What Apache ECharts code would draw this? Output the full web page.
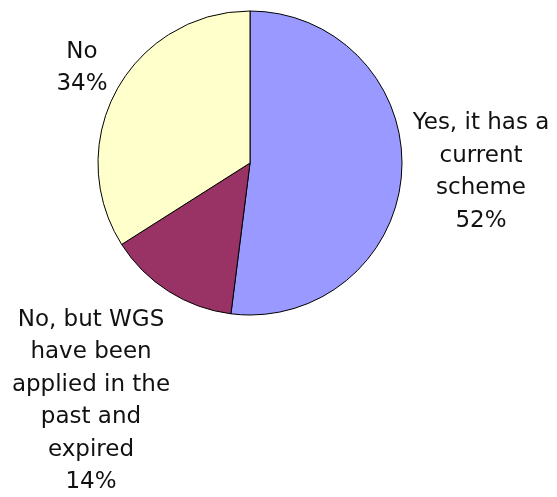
<!DOCTYPE html>
<html>
<head>
<meta charset="utf-8">
<script src="https://cdn.jsdelivr.net/npm/echarts@6/dist/echarts.min.js"></script>
<style>
html,body{margin:0;padding:0;background:#fff;}
#chart{width:557px;height:497px;}
</style>
</head>
<body>
<div id="chart"></div>
<script>
const categories = ["Yes, it has a\ncurrent\nscheme", "No, but WGS\nhave been\napplied in the\npast and\nexpired", "No"];
const values = [52, 14, 34];
const colors = ["#9999FF", "#993366", "#FFFFCC"];
const labelAnchors = [[481, 172], [91, 401], [82, 68]];

const chart = echarts.init(document.getElementById('chart'), null, {renderer: 'canvas'});
chart.setOption({
  animation: false,
  backgroundColor: '#ffffff',
  series: [{
    type: 'pie',
    center: [250, 163],
    radius: 152,
    startAngle: 90,
    clockwise: true,
    avoidLabelOverlap: false,
    data: categories.map((c, i) => ({name: c, value: values[i], itemStyle: {color: colors[i]}})),
    itemStyle: {borderColor: '#000', borderWidth: 1},
    label: {
      show: true,
      position: 'outside',
      formatter: '{b}\n{d}%',
      fontFamily: 'DejaVu Sans',
      fontSize: 23,
      lineHeight: 32.5,
      color: '#111',
      align: 'center'
    },
    labelLine: {show: false},
    labelLayout: function (p) {
      const a = labelAnchors[p.dataIndex];
      return {x: a[0], y: a[1], align: 'center', verticalAlign: 'middle'};
    },
    emphasis: {disabled: true}
  }]
});
</script>
</body>
</html>
